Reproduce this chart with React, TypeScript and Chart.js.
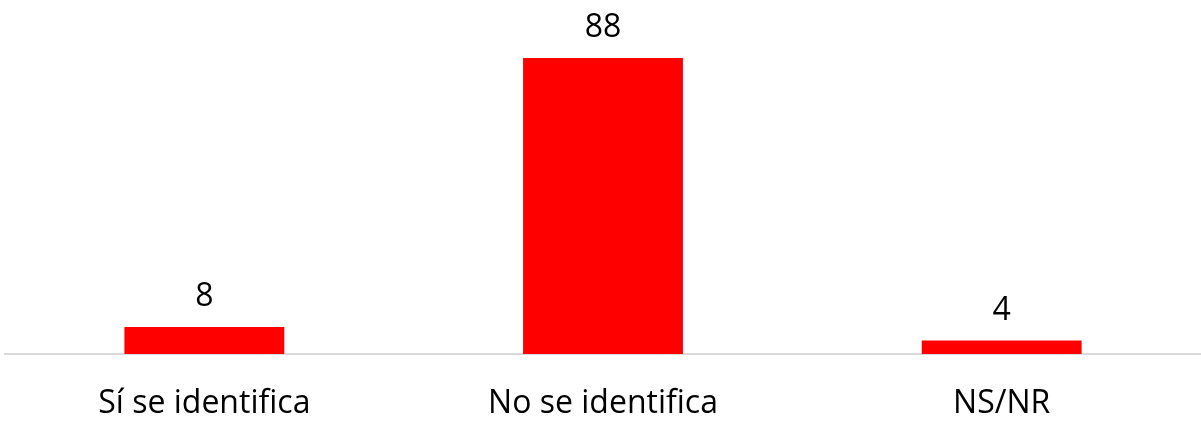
import React, { useEffect, useRef } from "react";
import { Chart, registerables } from "chart.js";

Chart.register(...registerables);

const categories = ["Sí se identifica", "No se identifica", "NS/NR"];
const values = [8, 88, 4];

const FONT = "'Open Sans', 'Noto Sans', sans-serif";

const valueLabels = {
  id: "valueLabels",
  afterDatasetsDraw(chart: any) {
    const ctx = chart.ctx;
    const meta = chart.getDatasetMeta(0);
    ctx.save();
    ctx.fillStyle = "#000000";
    ctx.font = `32px ${FONT}`;
    ctx.textAlign = "center";
    ctx.textBaseline = "alphabetic";
    meta.data.forEach((bar: any, i: number) => {
      ctx.fillText(String(values[i]), bar.x, bar.y - 21);
    });
    ctx.restore();
  },
};

export default function App() {
  const ref = useRef<HTMLCanvasElement>(null);
  useEffect(() => {
    const chart = new Chart(ref.current!, {
      type: "bar",
      data: {
        labels: categories,
        datasets: [
          {
            data: values,
            backgroundColor: "#ff0000",
            borderWidth: 0,
            categoryPercentage: 1,
            barPercentage: 0.401,
          },
        ],
      },
      options: {
        animation: false,
        responsive: false,
        maintainAspectRatio: false,
        layout: { padding: { top: 17.6, left: 5, right: 0, bottom: 0 } },
        plugins: { legend: { display: false }, tooltip: { enabled: false } },
        scales: {
          x: {
            grid: { display: false, drawTicks: false },
            border: { display: true, color: "#d9d9d9", width: 2 },
            ticks: {
              color: "#000000",
              font: { family: FONT, size: 32 },
              padding: 31,
              maxRotation: 0,
            },
            afterFit(scale: any) {
              scale.height = 72;
            },
          },
          y: {
            display: false,
            min: 0,
            max: 100,
          },
        },
      },
      plugins: [valueLabels],
    });
    return () => chart.destroy();
  }, []);
  return (
    <div style={{ position: "absolute", left: 0, top: 0, width: 1201, height: 426 }}>
      <canvas ref={ref} width={1201} height={426} style={{ display: "block" }} />
    </div>
  );
}
